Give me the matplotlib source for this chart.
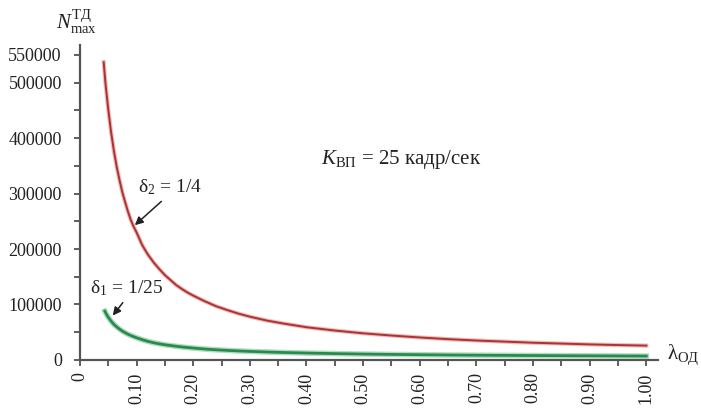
import matplotlib
matplotlib.use("Agg")
import matplotlib.pyplot as plt
from matplotlib.ticker import MultipleLocator, FixedLocator

plt.rcParams['font.family'] = ['Liberation Serif', 'DejaVu Serif']
plt.rcParams['mathtext.fontset'] = 'custom'
plt.rcParams['mathtext.rm'] = 'Liberation Serif'
plt.rcParams['mathtext.it'] = 'Liberation Serif:italic'

# curve delta2 = 1/4 (red)
lam_red = [0.042, 0.045, 0.05, 0.055, 0.06, 0.065, 0.07, 0.075, 0.08, 0.085, 0.09,
           0.095, 0.10, 0.11, 0.12, 0.13, 0.14, 0.15, 0.16, 0.17, 0.18, 0.19, 0.20,
           0.22, 0.24, 0.26, 0.28, 0.30, 0.33, 0.36, 0.40, 0.45, 0.50, 0.55, 0.60,
           0.65, 0.70, 0.75, 0.80, 0.85, 0.90, 0.95, 1.00]
n_red = [537000, 500000, 452000, 411000, 377000, 348000, 324000, 302000, 284000,
         267000, 252000, 240000, 230000, 207000, 190000, 176000, 164000, 153000,
         144000, 135000, 128000, 121500, 116000, 106000, 97000, 90000, 83500,
         78000, 71000, 65500, 59000, 53000, 48000, 44000, 40500, 37500, 35000,
         33000, 31000, 29500, 28000, 26800, 25800]

# curve delta1 = 1/25 (green)
lam_green = [0.044, 0.047, 0.05, 0.055, 0.06, 0.065, 0.07, 0.075, 0.08, 0.085, 0.09,
             0.095, 0.10, 0.11, 0.12, 0.13, 0.14, 0.15, 0.16, 0.17, 0.18, 0.19, 0.20,
             0.22, 0.24, 0.26, 0.28, 0.30, 0.33, 0.36, 0.40, 0.45, 0.50, 0.55, 0.60,
             0.65, 0.70, 0.75, 0.80, 0.85, 0.90, 0.95, 1.00]
n_green = [88000, 82000, 77000, 70000, 64000, 59500, 55500, 52000, 49000, 46300,
           44000, 41900, 40000, 36500, 33500, 31000, 29000, 27300, 26000, 24600,
           23400, 22400, 21400, 19700, 18300, 17200, 16200, 15400, 14300, 13400,
           12400, 11400, 10600, 9950, 9400, 8900, 8500, 8200, 7900, 7650, 7400,
           7200, 7000]

y_ticks = [0, 100000, 200000, 300000, 400000, 500000, 550000]
x_ticks = [0, 0.1, 0.2, 0.3, 0.4, 0.5, 0.6, 0.7, 0.8, 0.9, 1.0]
x_labels = ["0", "0.10", "0.20", "0.30", "0.40", "0.50", "0.60", "0.70", "0.80", "0.90", "1.00"]

fig = plt.figure(figsize=(7.01, 4.09), dpi=100)
ax = fig.add_axes([0.114, 0.12, 0.825, 0.77])

# soft halo under the lines, like the scanned original
ax.plot(lam_red, n_red, color="#f2b8b8", lw=3.0, solid_joinstyle="round")
ax.plot(lam_red, n_red, color="#a83434", lw=1.4, solid_joinstyle="round")
ax.plot(lam_green, n_green, color="#b0dcc0", lw=4.0, solid_joinstyle="round")
ax.plot(lam_green, n_green, color="#2a8a4e", lw=2.0, solid_joinstyle="round")

ax.set_xlim(0, 1.021)
ax.set_ylim(0, 568000)

for s in ["top", "right"]:
    ax.spines[s].set_visible(False)
for s in ["left", "bottom"]:
    ax.spines[s].set_color("#555555")
    ax.spines[s].set_linewidth(1.6)

ax.yaxis.set_major_locator(FixedLocator(y_ticks))
ax.set_yticklabels([str(v) for v in y_ticks])
ax.yaxis.set_minor_locator(MultipleLocator(50000))
ax.xaxis.set_major_locator(FixedLocator(x_ticks))
ax.set_xticklabels(x_labels, rotation=90)
ax.xaxis.set_minor_locator(MultipleLocator(0.05))

ax.tick_params(which="both", direction="out", length=4, width=1.2, color="#444444",
               labelsize=13, labelcolor="#222222")
ax.tick_params(axis="y", which="both", pad=9)
ax.tick_params(axis="x", which="both", pad=5)

fig.text(0.08, 0.945, r"$N_{\mathrm{max}}^{\mathrm{ТД}}$", fontsize=15,
         ha="left", va="center", color="#222222")
fig.text(0.952, 0.132, r"λ$_{\mathrm{ОД}}$", fontsize=15, ha="left", va="center",
         color="#222222")

ax.text(0.425, 362000, r"$K_{\mathrm{ВП}}$ = 25 кадр/сек", fontsize=15,
        ha="left", va="center", color="#222222")

ax.annotate(r"δ$_2$ = 1/4", xy=(0.097, 243000), xytext=(0.102, 312000),
            fontsize=14, color="#222222", ha="left", va="center",
            arrowprops=dict(arrowstyle="-|>", color="#222222", lw=1.1,
                            shrinkA=2, shrinkB=0, mutation_scale=12,
                            relpos=(0.45, 0.0)))
ax.annotate(r"δ$_1$ = 1/25", xy=(0.058, 80000), xytext=(0.018, 130000),
            fontsize=14, color="#222222", ha="left", va="center",
            arrowprops=dict(arrowstyle="-|>", color="#222222", lw=1.1,
                            shrinkA=2, shrinkB=0, mutation_scale=12,
                            relpos=(0.5, 0.0)))

fig.savefig("out.png", dpi=100)
